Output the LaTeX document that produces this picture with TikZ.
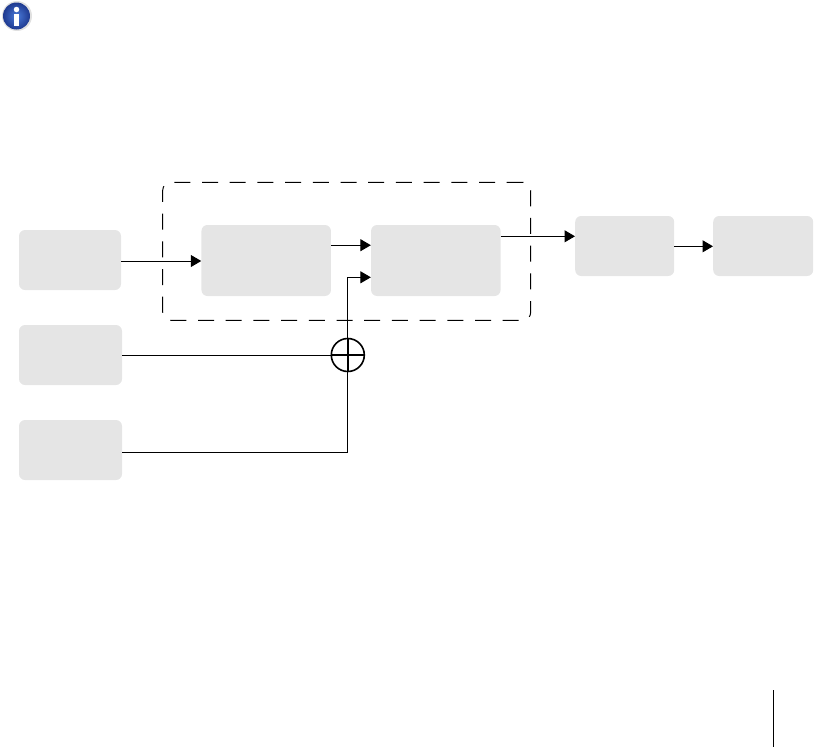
\documentclass[tikz,border=0pt]{standalone}
\usepackage{xcolor}
\usetikzlibrary{arrows.meta,positioning,calc}
\definecolor{boxfill}{HTML}{E5E5E5}
\definecolor{ink}{HTML}{000000}
\definecolor{iconblue}{HTML}{4A7AD8}
\definecolor{icondark}{HTML}{1F3A90}

\begin{document}
\begin{tikzpicture}[
  x=1pt, y=-1pt,
  blockbox/.style={fill=boxfill, rounded corners=6pt, inner sep=0pt, minimum height=60pt},
  widebox/.style={blockbox, minimum width=129.5pt, minimum height=71pt},
  flowline/.style={-{Triangle[length=10.5pt, width=12pt]}, draw=ink, line width=1pt},
  plainline/.style={draw=ink, line width=1pt},
  groupbox/.style={draw=ink, line width=1pt, rounded corners=8pt, inner sep=0pt,
    dash pattern=on 16pt off 11.7pt, minimum width=368pt, minimum height=138pt},
  sumnode/.style={circle, draw=ink, line width=1.6pt, minimum size=33pt, inner sep=0pt},
]
  \useasboundingbox (0,0) rectangle (814,747);

  % info icon
  \node[circle, minimum size=30pt, inner sep=0pt, fill=black!12] (halo) at (17,16) {};
  \node[circle, minimum size=27pt, inner sep=0pt, inner color=iconblue, outer color=icondark] (icon) at (16.5,16) {};
  \node[circle, minimum size=5.5pt, inner sep=0pt, fill=white] (icondot) at (16.5,9.5) {};
  \node[rectangle, minimum width=5pt, minimum height=12pt, inner sep=0pt, fill=white] (iconstem) at (16.5,20) {};

  % sources
  \node[blockbox, minimum width=102pt] (srca) at (70,260) {};
  \node[blockbox, minimum width=103pt] (srcb) at (70.5,355) {};
  \node[blockbox, minimum width=103pt] (srcc) at (70.5,450) {};

  % inner blocks
  \node[widebox] (inner1) at (266.2,260.5) {};
  \node[widebox] (inner2) at (435.8,260.5) {};

  % outputs
  \node[blockbox, minimum width=99pt] (out1) at (624.7,246) {};
  \node[blockbox, minimum width=100pt] (out2) at (763.2,246) {};

  \node[groupbox] (group) at (346.7,251.3) {};
  \node[sumnode] (sum) at (347.8,355) {};

  \draw[flowline] ([yshift=-1pt]srca.east) -- ([yshift=-0.5pt]inner1.west);
  \draw[flowline] ([yshift=15.3pt]inner1.east) -- ([yshift=15.3pt]inner2.west);
  \draw[flowline] ([yshift=-2pt]srcc.east) -| ([yshift=-16.8pt]sum |- inner2.west) -- ([yshift=-16.8pt]inner2.west);
  \draw[plainline] (srcb.east) -- (sum.west);
  \draw[line width=1.6pt, draw=ink] (sum.west) -- (sum.east);
  \draw[line width=1.6pt, draw=ink] (sum.north) -- (sum.south);
  \draw[flowline] ([yshift=24.2pt]inner2.east) -- ([yshift=9.7pt]out1.west);
  \draw[flowline] ([yshift=-0.3pt]out1.east) -- ([yshift=-0.3pt]out2.west);

  % page rule
  \coordinate (ruletop) at (773,690);
  \coordinate (rulebot) at (773,747);
  \draw[plainline] (ruletop) -- (rulebot);
\end{tikzpicture}
\end{document}
